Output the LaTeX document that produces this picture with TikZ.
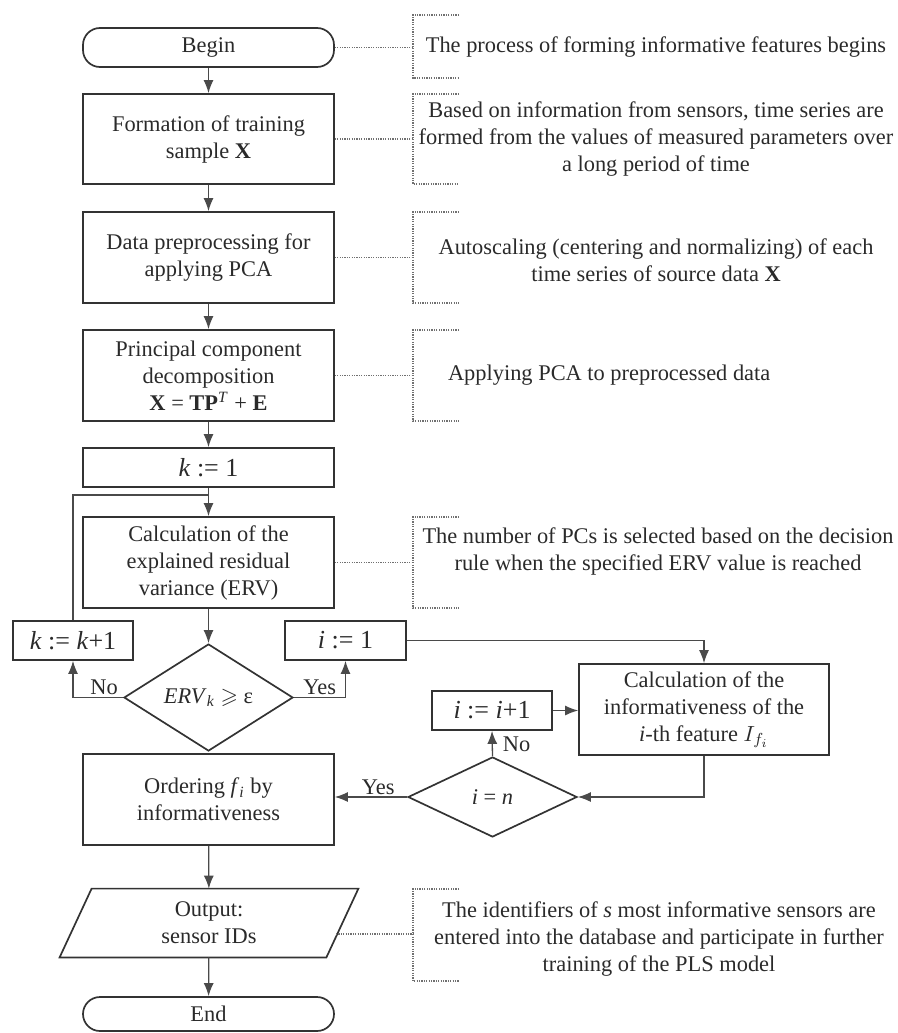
\documentclass[tikz,border=0pt]{standalone}
\usepackage{amssymb}
\usepackage{fontspec}
\setmainfont{Liberation Serif}
\usetikzlibrary{arrows.meta,shapes.geometric}
\definecolor{ln}{HTML}{333333}
\definecolor{cn}{HTML}{4A4A4A}
\definecolor{dt}{HTML}{707070}
\definecolor{txt}{HTML}{2A2A2A}
\begin{document}
\begin{tikzpicture}[x=0.5pt,y=-0.5pt,
  every node/.style={text=txt,font=\fontsize{11.2}{13.5}\selectfont},
  box/.style={draw=ln,line width=0.85pt,minimum width=125.5pt,inner sep=1pt,align=center},
  term/.style={box,rounded corners=8.5pt},
  smallbox/.style={draw=ln,line width=0.85pt,minimum width=60pt,minimum height=19.5pt,inner sep=1pt,font=\fontsize{13}{15}\selectfont},
  dec/.style={draw=ln,line width=0.85pt,diamond,inner sep=0pt,minimum width=84.5pt,minimum height=40.5pt},
  conn/.style={draw=cn,line width=0.65pt},
  arr/.style={conn,-{Latex[length=6.5pt,width=5pt]}},
  dots/.style={draw=dt,line width=0.6pt,dash pattern=on 0.6pt off 0.6pt},
  ann/.style={align=center},
  lbl/.style={inner sep=1pt}
]
\useasboundingbox (0,0) rectangle (898,1033);

% main column
\node[term,minimum height=19.5pt] (begin) at (208.5,47.5) {Begin};
\node[box,minimum height=45pt] (form) at (208.5,139) {Formation of training\\sample \textbf{X}};
\node[box,minimum height=45.5pt] (prep) at (208.5,257.5) {Data preprocessing for\\applying PCA};
\node[box,minimum height=45.5pt] (pca) at (208.5,375.5) {Principal component\\decomposition\\\textbf{X} = \textbf{TP}\textsuperscript{\textit{T}} + \textbf{E}};
\node[box,minimum height=19.5pt,font=\fontsize{13}{15}\selectfont] (k1) at (208.5,467.5) {\textit{k} := 1};
\node[box,minimum height=45.5pt] (erv) at (208.5,562.5) {Calculation of the\\explained residual\\variance (ERV)};
\node[smallbox] (kk) at (73,640.5) {\textit{k} := \textit{k}+1};
\node[smallbox,minimum width=60.5pt] (i1) at (345.5,640.5) {\textit{i} := 1};
\node[dec] (d1) at (208.5,697.5) {\textit{ERV}\textsubscript{\textit{k}} $\geqslant$ ε};
\node[box,minimum width=125pt,minimum height=45.5pt] (inf) at (704,709.5) {Calculation of the\\informativeness of the\\\textit{i}-th feature $I_{f_i}$};
\node[smallbox] (ii) at (492,710.5) {\textit{i} := \textit{i}+1};
\node[dec,minimum height=40pt] (d2) at (492.5,797) {\textit{i} = \textit{n}};
\node[box,minimum height=45.5pt] (ord) at (208.5,799.5) {Ordering \textit{f}\textsubscript{\textit{i}} by\\informativeness};
\node[minimum width=133pt,minimum height=34pt,inner sep=0pt,align=center] (out) at (209,923) {Output:\\sensor IDs};
\draw[draw=ln,line width=0.85pt] ([xshift=8pt]out.north west) -- ([xshift=8pt]out.north east) -- ([xshift=-8pt]out.south east) -- ([xshift=-8pt]out.south west) -- cycle;
\node[term,minimum height=17pt] (end) at (208.5,1014) {End};

% connectors
\coordinate (join) at (208.5,495);
\draw[arr] (begin) -- (form);
\draw[arr] (form) -- (prep);
\draw[arr] (prep) -- (pca);
\draw[arr] (pca) -- (k1);
\draw[arr] (k1) -- (erv);
\draw[conn] (kk.north) |- (join);
\draw[arr] (erv) -- (d1);
\draw[arr] (d1.west) -| node[lbl,pos=0.19,above] {No} (kk.south);
\draw[arr] (d1.east) -| node[lbl,pos=0.25,above] {Yes} (i1.south);
\draw[arr] (i1.east) -| (inf.north);
\draw[arr] (ii.east) -- (ii.east -| inf.west);
\draw[arr] (inf.south) |- (d2.east);
\draw[arr] (d2.north) -- node[lbl,right,pos=0.45,xshift=4pt] {No} (ii.south);
\draw[arr] (d2.west) -- node[lbl,above,pos=0.4] {Yes} (d2.west -| ord.east);
\draw[arr] (ord) -- (out);
\draw[arr] (out) -- (end);

% annotations
\coordinate (b1) at (413,47.5);
\coordinate (b2) at (413,139);
\coordinate (b3) at (413,257.5);
\coordinate (b4) at (413,375.5);
\coordinate (b5) at (413,562.5);
\coordinate (b6) at (413,934);
\draw[dots] (begin.east) -- (b1);
\draw[dots] (form.east) -- (b2);
\draw[dots] (prep.east) -- (b3);
\draw[dots] (pca.east) -- (b4);
\draw[dots] (erv.east) -- (b5);
\draw[dots] (336,934) -- (b6);
\draw[dots] (459,15) -- (413,15) -- (413,78) -- (459,78);
\draw[dots] (459,94) -- (413,94) -- (413,184) -- (459,184);
\draw[dots] (459,212) -- (413,212) -- (413,303) -- (459,303);
\draw[dots] (459,330) -- (413,330) -- (413,421) -- (459,421);
\draw[dots] (459,517) -- (413,517) -- (413,608) -- (459,608);
\draw[dots] (459,889) -- (413,889) -- (413,981) -- (459,981);
\node[ann] (a1) at (656,47) {The process of forming informative features begins};
\node[ann] (a2) at (656,139) {Based on information from sensors, time series are\\formed from the values of measured parameters over\\a long period of time};
\node[ann] (a3) at (656,260) {Autoscaling (centering and normalizing) of each\\time series of source data \textbf{X}};
\node[anchor=west] (a4) at (441,375) {Applying PCA to preprocessed data};
\node[ann] (a5) at (658,551) {The number of PCs is selected based on the decision\\rule when the specified ERV value is reached};
\node[ann] (a6) at (659,939) {The identifiers of \textit{s} most informative sensors are\\entered into the database and participate in further\\training of the PLS model};
\end{tikzpicture}
\end{document}
